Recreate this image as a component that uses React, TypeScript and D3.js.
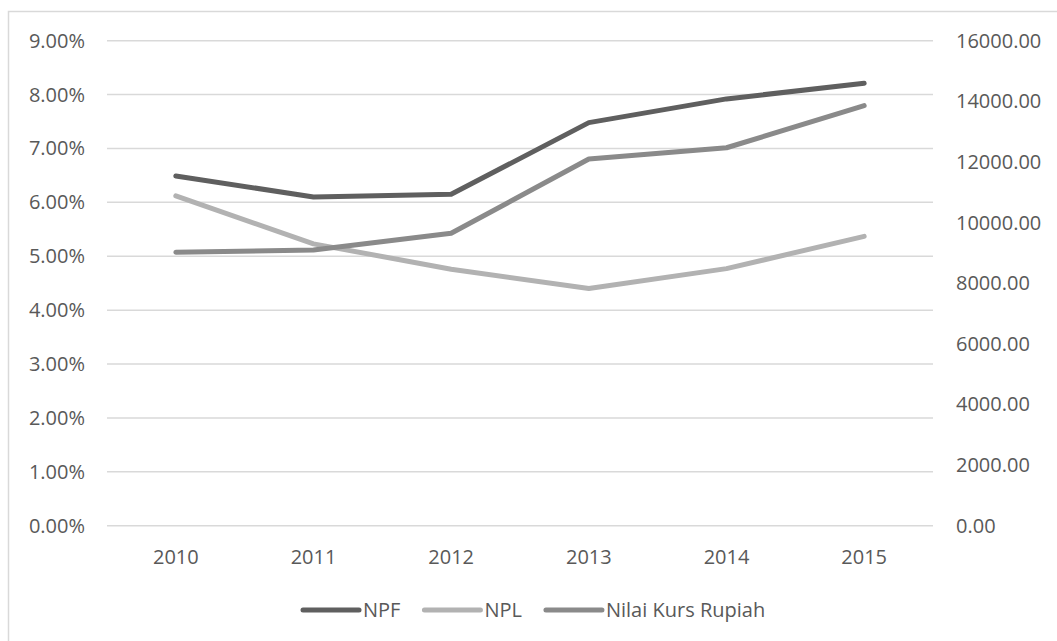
import React, { useEffect, useRef } from 'react';
import * as d3 from 'd3';

const years = ['2010', '2011', '2012', '2013', '2014', '2015'];
const npf = [0.0649, 0.061, 0.0615, 0.0748, 0.0792, 0.0821];
const npl = [0.0612, 0.0523, 0.0476, 0.044, 0.0477, 0.0537];
const kurs = [9020, 9095, 9646, 12098, 12468, 13858];
const leftTicks = [0, 0.01, 0.02, 0.03, 0.04, 0.05, 0.06, 0.07, 0.08, 0.09];
const rightTicks = [0, 2000, 4000, 6000, 8000, 10000, 12000, 14000, 16000];

const seriesNames = ['NPF', 'NPL', 'Nilai Kurs Rupiah'];
const seriesColors = ['#5f5f5f', '#b2b2b2', '#8a8a8a'];

const App = () => {
  const svgRef = useRef(null);

  useEffect(() => {
    const width = 1057;
    const height = 641;
    const plot = { left: 107, right: 933, top: 40.7, bottom: 525.7 };
    const font = '"Open Sans", "Noto Sans", sans-serif';
    const textColor = '#595959';

    d3.select(svgRef.current).selectAll('*').remove();

    const svg = d3.select(svgRef.current)
      .attr('width', width)
      .attr('height', height)
      .style('font-family', font);

    svg.append('rect')
      .attr('width', width)
      .attr('height', height)
      .attr('fill', '#ffffff');

    // chart area border (only left/top visible)
    svg.append('rect')
      .attr('x', 8.5)
      .attr('y', 11.5)
      .attr('width', width + 20)
      .attr('height', height + 20)
      .attr('fill', 'none')
      .attr('stroke', '#d9d9d9')
      .attr('stroke-width', 1.5);

    const xScale = d3.scaleBand()
      .domain(years)
      .range([plot.left, plot.right]);

    const yLeft = d3.scaleLinear()
      .domain([0, 0.09])
      .range([plot.bottom, plot.top]);

    const yRight = d3.scaleLinear()
      .domain([0, 16000])
      .range([plot.bottom, plot.top]);

    const xPos = (y: string) => xScale(y)! + xScale.bandwidth() / 2;

    // gridlines
    svg.append('g')
      .selectAll('line')
      .data(leftTicks)
      .join('line')
      .attr('x1', plot.left)
      .attr('x2', plot.right)
      .attr('y1', d => yLeft(d))
      .attr('y2', d => yLeft(d))
      .attr('stroke', '#d9d9d9')
      .attr('stroke-width', 1.5);

    // left axis labels
    svg.append('g')
      .selectAll('text')
      .data(leftTicks)
      .join('text')
      .attr('x', 85)
      .attr('y', d => yLeft(d))
      .attr('dy', '0.35em')
      .attr('text-anchor', 'end')
      .attr('fill', textColor)
      .style('font-size', '20px')
      .text(d => (d * 100).toFixed(2) + '%');

    // right axis labels
    svg.append('g')
      .selectAll('text')
      .data(rightTicks)
      .join('text')
      .attr('x', 956)
      .attr('y', d => yRight(d))
      .attr('dy', '0.35em')
      .attr('fill', textColor)
      .style('font-size', '20px')
      .text(d => d.toFixed(2));

    // x labels
    svg.append('g')
      .selectAll('text')
      .data(years)
      .join('text')
      .attr('x', d => xPos(d))
      .attr('y', 557)
      .attr('dy', '0.35em')
      .attr('text-anchor', 'middle')
      .attr('fill', textColor)
      .style('font-size', '20px')
      .text(d => d);

    const lineLeft = d3.line<number>()
      .x((_, i) => xPos(years[i]))
      .y(d => yLeft(d));

    const lineRight = d3.line<number>()
      .x((_, i) => xPos(years[i]))
      .y(d => yRight(d));

    const paths = [lineLeft(npf), lineLeft(npl), lineRight(kurs)];
    paths.forEach((p, i) => {
      svg.append('path')
        .attr('d', p!)
        .attr('fill', 'none')
        .attr('stroke', seriesColors[i])
        .attr('stroke-width', 5)
        .attr('stroke-linecap', 'round')
        .attr('stroke-linejoin', 'round');
    });

    // legend
    const legendY = 610;
    const gap = 24;
    const legend = svg.append('g');
    let cursor = 0;
    seriesNames.forEach((name, i) => {
      const g = legend.append('g');
      g.append('line')
        .attr('x1', 0)
        .attr('x2', 56)
        .attr('y1', 0)
        .attr('y2', 0)
        .attr('stroke', seriesColors[i])
        .attr('stroke-width', 5)
        .attr('stroke-linecap', 'round');
      const t = g.append('text')
        .attr('x', 60)
        .attr('y', 0)
        .attr('dy', '0.35em')
        .attr('fill', textColor)
        .style('font-size', '20px')
        .text(name);
      const tw = (t.node() as SVGTextElement).getComputedTextLength();
      g.attr('transform', `translate(${cursor}, ${legendY})`);
      cursor += 60 + tw + gap;
    });
    const total = cursor - gap;
    legend.attr('transform', `translate(${303}, 0)`);
    void total;
  }, []);

  return (
    <svg
      ref={svgRef}
      style={{ position: 'absolute', left: 0, top: 0, display: 'block' }}
    ></svg>
  );
};

export default App;
